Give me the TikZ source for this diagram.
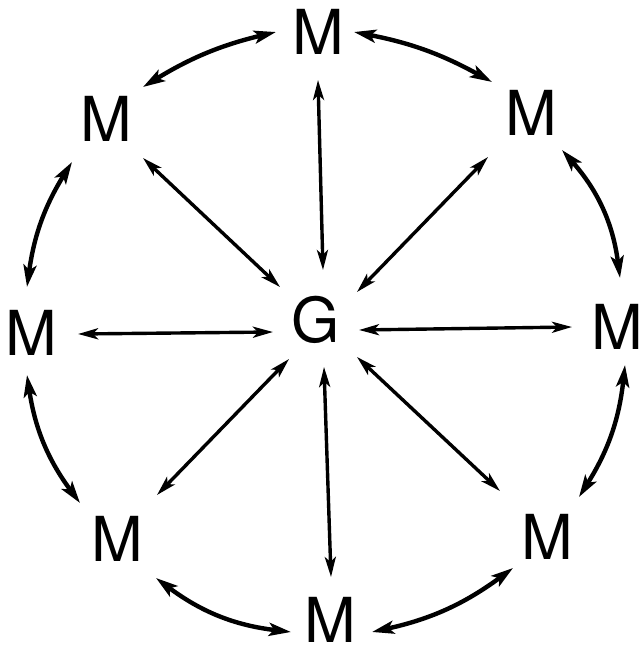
\documentclass[tikz,border=0pt]{standalone}
\usepackage{fontspec}
\setmainfont{TeX Gyre Heros}
\usetikzlibrary{arrows.meta,calc}
\begin{document}
\begin{tikzpicture}[x=1pt,y=-1pt,
  lbl/.style={inner sep=0pt, font=\fontsize{62}{62}\selectfont},
  tipR/.tip={Stealth[length=20pt,width=11pt,inset=5pt]},
  tipA/.tip={Stealth[length=22pt,width=13pt,inset=5pt]},
  ray/.style={line width=3.4pt, tipR-tipR},
  ring/.style={line width=4.4pt, tipA-tipA}]
\useasboundingbox (0,0) rectangle (642,647);
% nodes
\node[lbl] (g)  at (316,320)   {G};
\node[lbl] (tm) at (318.5,32)  {M};
\node[lbl] (tl) at (106,119)   {M};
\node[lbl] (tr) at (531,113)   {M};
\node[lbl] (lm) at (31,333)    {M};
\node[lbl] (rm) at (617,327)   {M};
\node[lbl] (bl) at (117,539)   {M};
\node[lbl] (br) at (547,537)   {M};
\node[lbl] (bm) at (330,620)   {M};
% rays
\draw[ray] ($(tm)+(-0.5,48)$) -- ($(g)+(7,-50)$);
\draw[ray] ($(tl)+(37,39)$)   -- ($(g)+(-36,-33)$);
\draw[ray] ($(tr)+(-43,44)$)  -- ($(g)+(41,-28)$);
\draw[ray] ($(lm)+(47,1)$)    -- ($(g)+(-43,12)$);
\draw[ray] ($(rm)+(-45,0)$)   -- ($(g)+(43,10)$);
\draw[ray] ($(bl)+(40,-44)$)  -- ($(g)+(-27,39)$);
\draw[ray] ($(bm)+(1,-43)$)   -- ($(g)+(8,47)$);
\draw[ray] ($(br)+(-47,-46)$) -- ($(g)+(41,37)$);
% ring
\draw[ring] ($(tm)+(35.5,0)$)  to[bend left=9]  ($(tr)+(-39,-31)$);
\draw[ring] ($(tr)+(31,37)$)   to[bend left=17] ($(rm)+(3,-49)$);
\draw[ring] ($(rm)+(8,38)$)    to[bend left=13] ($(br)+(32,-40)$);
\draw[ring] ($(br)+(-34,31)$)  to[bend left=12] ($(bm)+(42,12)$);
\draw[ring] ($(bm)+(-39,12)$)  to[bend left=15] ($(bl)+(39,39)$);
\draw[ring] ($(bl)+(-37,-36)$) to[bend left=14] ($(lm)+(-4,42)$);
\draw[ring] ($(lm)+(-4,-46)$)  to[bend left=12] ($(tl)+(-34,43)$);
\draw[ring] ($(tl)+(37,-32)$)  to[bend left=9]  ($(tm)+(-42.5,0)$);
\end{tikzpicture}
\end{document}
